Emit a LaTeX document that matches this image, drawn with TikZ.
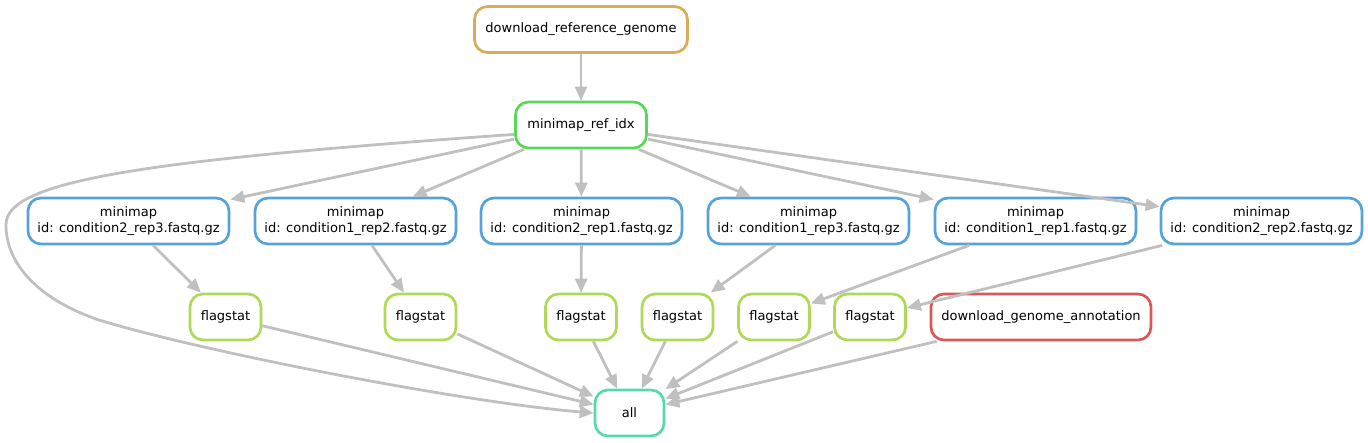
\documentclass[tikz,border=0pt]{standalone}
\usepackage{fontspec}
\setmainfont{DejaVu Sans}
\usetikzlibrary{arrows.meta}

\definecolor{refgold}{RGB}{217,173,87}
\definecolor{idxgreen}{RGB}{87,217,87}
\definecolor{mapblue}{RGB}{87,162,217}
\definecolor{statgreen}{RGB}{175,217,87}
\definecolor{gtfred}{RGB}{217,87,87}
\definecolor{allteal}{RGB}{87,217,170}
\definecolor{edgegray}{RGB}{192,192,192}

\begin{document}
\begin{tikzpicture}[x=1pt, y=-1pt,
  rule/.style={draw=#1, line width=2.7pt, rounded corners=13pt, minimum height=46pt,
    inner sep=0pt, align=center, font=\fontsize{13}{15.5}\selectfont},
  edge/.style={draw=edgegray, line width=2.8pt, -{Triangle[length=14pt,width=12pt]}}]
\def\rowmap{221}
\def\rowstat{317}

\useasboundingbox (0,0) rectangle (1368,443);

\node[rule=refgold, minimum width=213] (ref) at (581,29.5) {download\_reference\_genome};
\node[rule=idxgreen, minimum width=131] (idx) at (581,125) {minimap\_ref\_idx};

\foreach \i/\x/\s in {1/128.5/condition2\_rep3, 2/355.5/condition1\_rep2,
    3/581.5/condition2\_rep1, 4/808.5/condition1\_rep3,
    5/1035.5/condition1\_rep1, 6/1261.5/condition2\_rep2} {
  \node[rule=mapblue, minimum width=201] (mm\i) at (\x,\rowmap) {minimap\\id: \s.fastq.gz};
}
\foreach \i/\x in {1/225.5,2/420.5,3/581,4/677.5,5/774,6/870} {
  \node[rule=statgreen, minimum width=71] (fs\i) at (\x,\rowstat) {flagstat};
}
\node[rule=gtfred, minimum width=220] (gtf) at (1041,\rowstat) {download\_genome\_annotation};
\node[rule=allteal, minimum width=69] (all) at (629.5,413) {all};

\draw[edge] (ref) -- (idx);
\foreach \i in {1,...,6} {
  \draw[edge] (idx) -- (mm\i);
  \draw[edge] (mm\i) -- (fs\i);
  \draw[edge] (fs\i) -- (all);
}
\draw[edge] (gtf) -- (all);

% long edge round the left side
\draw[edge] (idx.188) .. controls (150,160) and (5,180) .. (6,225)
  .. controls (6,265) and (40,300) .. (99,320)
  .. controls (200,351) and (460,402) .. (all.west);

\end{tikzpicture}
\end{document}
